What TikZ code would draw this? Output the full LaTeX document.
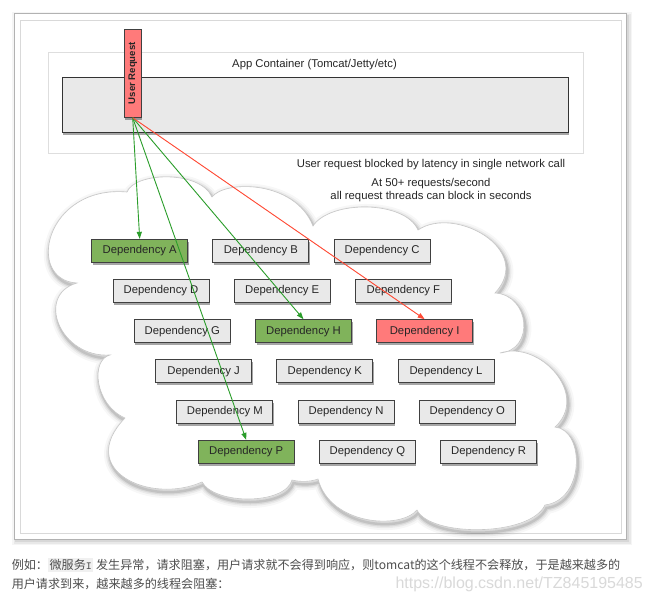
\documentclass[tikz,border=0pt]{standalone}
\usepackage{fontspec}
\setmainfont{Liberation Sans}
\newfontfamily\cjk{Noto Sans CJK SC}
\newfontfamily\monof{Liberation Mono}
\usetikzlibrary{shadows,arrows.meta}
\definecolor{boxgray}{HTML}{E9E9E9}
\definecolor{depgreen}{HTML}{80B35B}
\definecolor{depred}{HTML}{FF7A7A}
\definecolor{arrgreen}{HTML}{2A9D2A}
\definecolor{arrred}{HTML}{FF4B36}
\definecolor{txtgray}{HTML}{4D4D4D}
\begin{document}
\begin{tikzpicture}[x=1pt,y=-1pt,
  lbl/.style={font=\fontsize{11.3}{12.6}\selectfont, text=black!85, inner sep=0pt},
  boxshadow/.style={drop shadow={shadow xshift=1pt,shadow yshift=-2.5pt,opacity=0.35,fill=black}},
  dep/.style={draw=black!75, line width=0.9pt, fill=boxgray, minimum width=96pt, minimum height=23pt, inner sep=0pt, text=black!85, font=\fontsize{11.3}{13}\selectfont, boxshadow},
  depok/.style={dep, fill=depgreen},
  depbad/.style={dep, fill=depred},
  call/.style={arrgreen, line width=0.9pt, -{Triangle[length=7pt,width=5pt]}},
  badcall/.style={call, draw=arrred, fill=arrred},
]
\useasboundingbox (0,0) rectangle (649,603);
\fill[white] (0,0) rectangle (649,603);

% outer frame with soft shadow
\foreach \w/\o in {8/0.04,5/0.05,2/0.07}{
  \draw[black,opacity=\o,line width=\w pt] (16,16) rectangle (628,541);
}
\filldraw[draw=black!30, fill=white, line width=0.8pt] (14,13) rectangle (626,539);
\draw[black!15, line width=0.8pt] (20,20) rectangle (621,533);

% app container
\draw[black!13, line width=0.8pt] (48,52) rectangle (583,153);
\node (appbox) [draw=black!80, fill=boxgray, line width=0.9pt, minimum width=506pt, minimum height=55pt, inner sep=0pt, boxshadow] at (315,104.5) {};
\node[lbl] (apptitle) at (314.5,64.5) {App Container (Tomcat/Jetty/etc)};

% cloud
\def\cloudpath{(77,283) .. controls (25,280) and (45,185) .. (127,192)
 .. controls (135,172) and (200,170) .. (212,197)
 .. controls (225,180) and (295,180) .. (313,226)
 .. controls (330,200) and (405,200) .. (418,230)
 .. controls (455,205) and (535,250) .. (495,293)
 .. controls (530,295) and (535,350) .. (500,353)
 .. controls (540,340) and (590,395) .. (555,427)
 .. controls (585,430) and (585,500) .. (545,505)
 .. controls (530,537) and (430,537) .. (417,510)
 .. controls (400,530) and (330,525) .. (318,479)
 .. controls (310,482) and (300,482) .. (292,480)
 .. controls (285,505) and (215,505) .. (202,482)
 .. controls (150,505) and (75,470) .. (125,418)
 .. controls (95,405) and (90,360) .. (110,355)
 .. controls (60,358) and (35,295) .. (77,283) -- cycle}
\foreach \w/\o in {12/0.03,8/0.05,5/0.07,2.5/0.10}{
  \draw[black,opacity=\o,line width=\w pt,shift={(1.5,3)}] \cloudpath;
}
\filldraw[fill=white, draw=black!22, line width=0.6pt] \cloudpath;

% notes
\node[lbl] (note1) at (431,164.5) {User request blocked by latency in single network call};
\node[lbl, align=center] (note2) at (431,190) {At 50+ requests/second\\all request threads can block in seconds};

% dependencies
\node[depok]  (A) at (139.7,250.8) {Dependency A};
\node[dep]    (B) at (260.9,250.8) {Dependency B};
\node[dep]    (C) at (382.1,250.8) {Dependency C};
\node[dep]    (D) at (161.0,291.0) {Dependency D};
\node[dep]    (E) at (282.2,291.0) {Dependency E};
\node[dep]    (F) at (403.4,291.0) {Dependency F};
\node[dep]    (G) at (182.3,331.2) {Dependency G};
\node[depok]  (H) at (303.5,331.2) {Dependency H};
\node[depbad] (I) at (424.7,331.2) {Dependency I};
\node[dep]    (J) at (203.6,371.4) {Dependency J};
\node[dep]    (K) at (324.8,371.4) {Dependency K};
\node[dep]    (L) at (446.0,371.4) {Dependency L};
\node[dep]    (M) at (224.9,411.6) {Dependency M};
\node[dep]    (N) at (346.1,411.6) {Dependency N};
\node[dep]    (O) at (467.3,411.6) {Dependency O};
\node[depok]  (P) at (246.2,451.8) {Dependency P};
\node[dep]    (Q) at (367.4,451.8) {Dependency Q};
\node[dep]    (R) at (488.6,451.8) {Dependency R};

% user request
\node (ur) [draw=black!75, fill=depred, line width=0.9pt, minimum width=17pt, minimum height=88pt, inner sep=0pt, text=black!85, font=\bfseries\fontsize{9.6}{11}\selectfont, boxshadow] at (132.7,73.3) {\rotatebox{90}{User Request}};

% calls
\draw[call] (ur.south) -- (A.north);
\draw[call] (ur.south) -- (H.north);
\draw[call] (ur.south) -- (P.north);
\draw[badcall] (ur.south) -- (I.north);

% caption
\node[anchor=west, inner sep=0pt, text=txtgray, font=\cjk\fontsize{12.1}{14}\selectfont] (cn1) at (11.6,565) {例如：{\setlength\fboxsep{1.5pt}\colorbox{black!6}{微服务{\monof\fontsize{10}{12}\selectfont I}}} 发生异常，请求阻塞，用户请求就不会得到响应，则tomcat的这个线程不会释放，于是越来越多的};
\node[anchor=west, inner sep=0pt, text=txtgray, font=\cjk\fontsize{12.1}{14}\selectfont] (cn2) at (11.6,584) {用户请求到来，越来越多的线程会阻塞：};
\node[anchor=east, inner sep=0pt, text=black!15, font=\fontsize{16}{18}\selectfont] (wm) at (643,584) {https://blog.csdn.net/TZ845195485};
\end{tikzpicture}
\end{document}
